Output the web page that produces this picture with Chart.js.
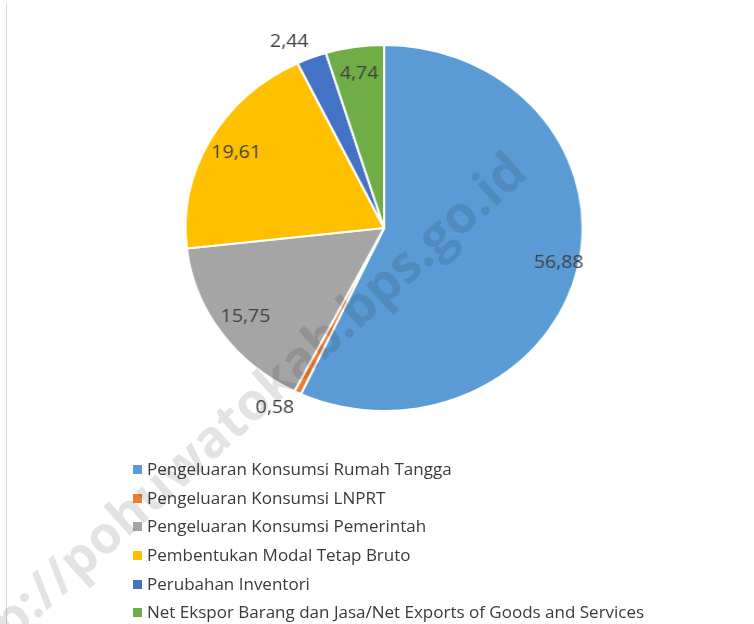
<!DOCTYPE html>
<html>
<head>
<meta charset="utf-8">
<script src="https://cdn.jsdelivr.net/npm/chart.js@4.4.1/dist/chart.umd.min.js"></script>
<style>
  html, body { margin: 0; padding: 0; background: #fff; }
  body { width: 754px; height: 624px; position: relative; overflow: hidden; font-family: "Open Sans", sans-serif; }
  #edge { position: absolute; left: 6px; top: 4px; width: 1px; height: 620px; background: #d9d9d9; }
  #wrap { position: absolute; left: 0; top: 0; width: 695px; height: 624px; transform: scaleX(1.085); transform-origin: 0 0; }
  #legend { position: absolute; left: 133px; top: 455px; margin: 0; padding: 0; list-style: none; }
  #legend li { height: 28.7px; line-height: 28.7px; font-size: 17px; color: #3a3a3a; white-space: nowrap; }
  #legend span { display: inline-block; width: 9px; height: 9px; margin-right: 5px; vertical-align: 1px; }
  #mark { position: absolute; left: -384px; top: 125px; width: 900px; text-align: right; font: bold 52px "Open Sans", sans-serif;
          color: rgba(0, 0, 0, 0.11); transform-origin: 100% 50%; transform: rotate(-42deg); white-space: nowrap; pointer-events: none; }
</style>
</head>
<body>
<div id="edge"></div>
<div id="wrap"><canvas id="pie" width="695" height="624"></canvas></div>
<ul id="legend"></ul>
<div id="mark">http://pohuwatokab.bps.go.id</div>
<script>
const categories = [
    'Pengeluaran Konsumsi Rumah Tangga',
    'Pengeluaran Konsumsi LNPRT',
    'Pengeluaran Konsumsi Pemerintah',
    'Pembentukan Modal Tetap Bruto',
    'Perubahan Inventori',
    'Net Ekspor Barang dan Jasa/Net Exports of Goods and Services'
];
const shares = [56.88, 0.58, 15.75, 19.61, 2.44, 4.74];
const colors = ['#5B9BD5', '#ED7D31', '#A5A5A5', '#FFC000', '#4472C4', '#70AD47'];

function fmt(v) {
    return v.toFixed(2).replace('.', ',');
}

// value labels: inside for big slices, outside (best fit style) for thin ones
const valueLabels = {
    id: 'valueLabels',
    afterDatasetsDraw(chart) {
        const ctx = chart.ctx;
        const meta = chart.getDatasetMeta(0);
        ctx.save();
        ctx.font = '18px "Open Sans", sans-serif';
        ctx.fillStyle = '#404040';
        meta.data.forEach((arc, i) => {
            const p = arc.getProps(['x', 'y', 'startAngle', 'endAngle', 'outerRadius'], true);
            const mid = (p.startAngle + p.endAngle) / 2;
            const cos = Math.cos(mid), sin = Math.sin(mid);
            if (shares[i] < 3) {
                const r = p.outerRadius * 1.04;
                ctx.textAlign = cos < 0 ? 'right' : 'left';
                ctx.textBaseline = sin > 0 ? 'top' : 'bottom';
                ctx.fillText(fmt(shares[i]), p.x + cos * r, p.y + sin * r);
            } else {
                const r = p.outerRadius * (shares[i] > 50 ? 0.9 : 0.85);
                ctx.textAlign = 'center';
                ctx.textBaseline = 'middle';
                ctx.fillText(fmt(shares[i]), p.x + cos * r, p.y + sin * r);
            }
        });
        ctx.restore();
    }
};

new Chart(document.getElementById('pie'), {
    type: 'pie',
    data: {
        labels: categories,
        datasets: [{
            data: shares,
            backgroundColor: colors,
            borderColor: '#ffffff',
            borderWidth: 2
        }]
    },
    options: {
        responsive: false,
        animation: false,
        layout: { padding: { left: 170, right: 157, top: 44, bottom: 212 } },
        plugins: {
            legend: { display: false },
            tooltip: { enabled: false }
        }
    },
    plugins: [valueLabels]
});

const legend = document.getElementById('legend');
categories.forEach((name, i) => {
    const li = document.createElement('li');
    li.innerHTML = '<span style="background:' + colors[i] + '"></span>' + name;
    legend.appendChild(li);
});
</script>
</body>
</html>
